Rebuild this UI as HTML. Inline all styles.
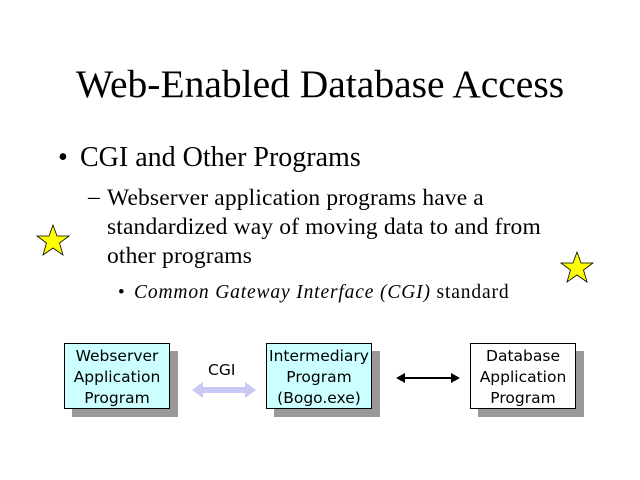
<!DOCTYPE html>
<html><head><style>
body{margin:0;width:640px;height:480px;background:#fff;position:relative;overflow:hidden;font-family:"Liberation Serif",serif;color:#000}
.t{position:absolute;white-space:nowrap}
.box{position:absolute;width:106px;height:66px;border:1px solid #000;box-shadow:8px 8px 0 #999;font-family:"DejaVu Sans","Liberation Sans",sans-serif;font-size:15.5px;line-height:21px;text-align:center;box-sizing:border-box;padding-top:2px}
</style></head><body>
<div class="t" style="left:0;width:640px;text-align:center;top:61px;font-size:39.5px">Web-Enabled Database Access</div>
<div class="t" style="left:58px;top:142px;font-size:28px">•</div>
<div class="t" style="left:80px;top:142px;font-size:28px">CGI and Other Programs</div>
<div class="t" style="left:88px;top:184px;font-size:23.5px">–</div>
<div class="t" style="left:107px;top:184px;font-size:23.5px;line-height:29px;letter-spacing:0.15px">Webserver application programs have a<br>standardized way of moving data to and from<br>other programs</div>
<div class="t" style="left:118px;top:282px;font-size:19px">•</div>
<div class="t" style="left:134px;top:282px;font-size:19.5px;letter-spacing:0.85px"><i>Common Gateway Interface (CGI)</i> standard</div>
<svg style="position:absolute;left:0;top:0" width="640" height="480">
<polygon points="53,225 57,236 69,236 59.5,243 63,255 53,248 43,255 46.5,243 37,236 49,236" fill="#ff0" stroke="#000" stroke-width="0.8"/>
<polygon points="577,252 581,263 593,263 583.5,270 587,282 577,275 567,282 570.5,270 561,263 573,263" fill="#ff0" stroke="#000" stroke-width="0.8"/>
<polygon points="192,390 203,382 203,387 245,387 245,382 256,390 245,398 245,393 203,393 203,398" fill="#c8c8f4"/>
<line x1="402" y1="378" x2="452" y2="378" stroke="#000" stroke-width="2"/>
<polygon points="396,378 405,373 405,383"/>
<polygon points="460,378 451,373 451,383"/>
</svg>
<div class="t" style="left:208px;top:361px;font-family:'DejaVu Sans',sans-serif;font-size:15.5px">CGI</div>
<div class="box" style="left:64px;top:343px;background:#ccffff">Webserver<br>Application<br>Program</div>
<div class="box" style="left:266px;top:343px;background:#ccffff">Intermediary<br>Program<br>(Bogo.exe)</div>
<div class="box" style="left:470px;top:343px;background:#fff">Database<br>Application<br>Program</div>
</body></html>
